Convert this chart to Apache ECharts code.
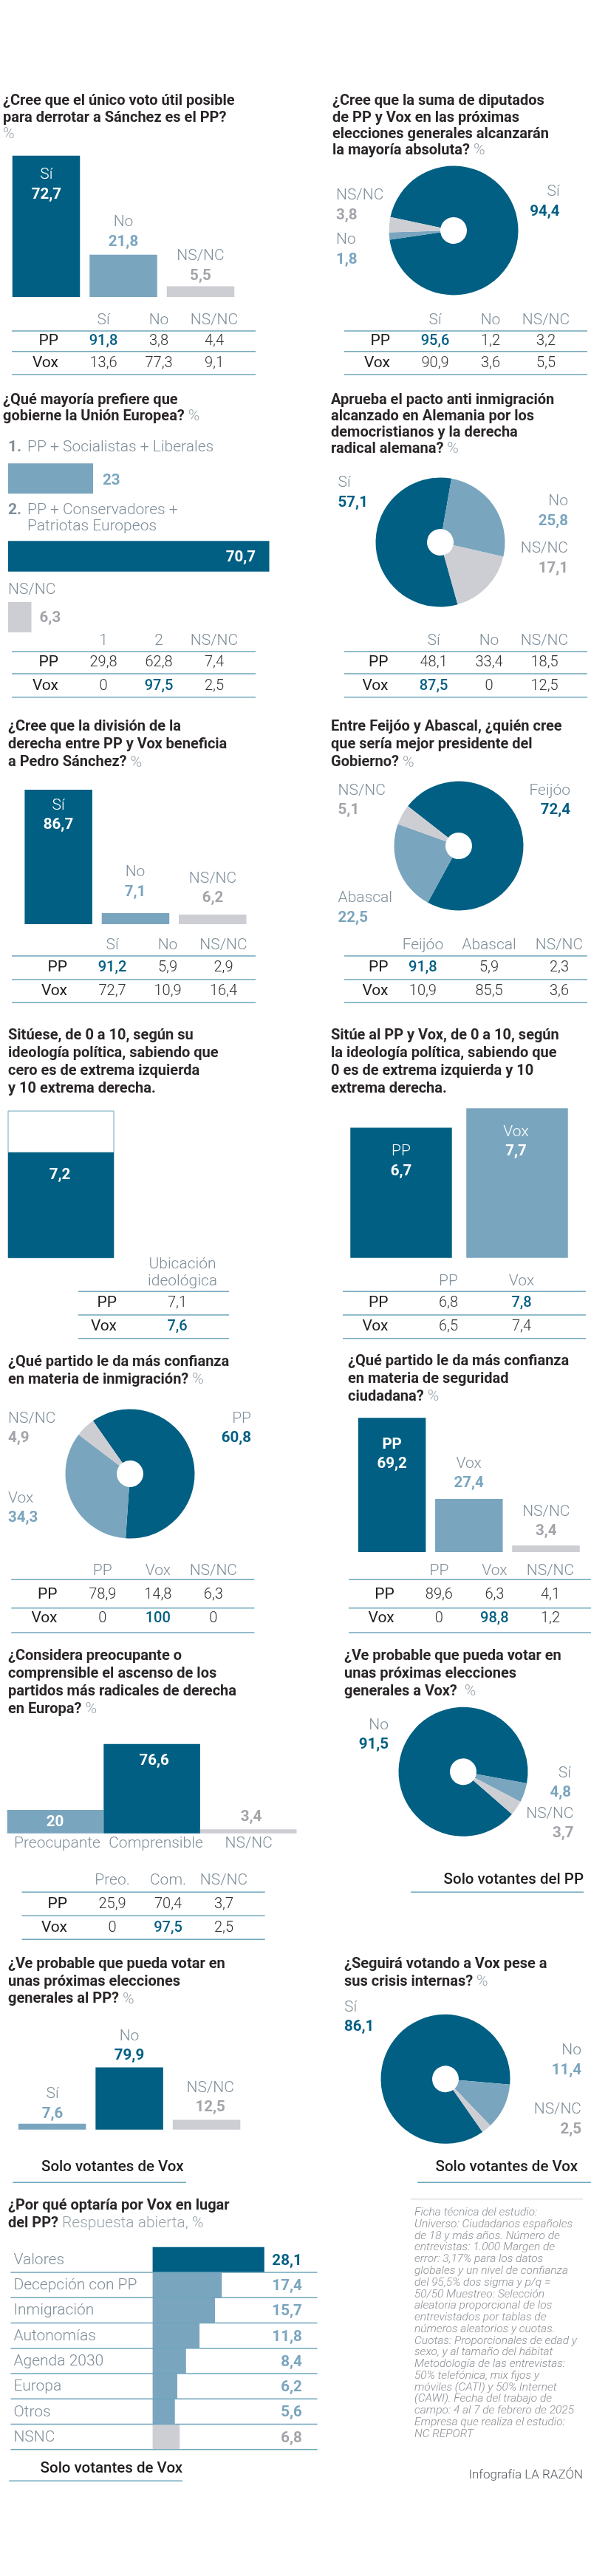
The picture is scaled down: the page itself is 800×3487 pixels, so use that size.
<!DOCTYPE html>
<html>
<head>
<meta charset="utf-8">
<title>Encuesta NC Report</title>
<style>
html, body { margin: 0; padding: 0; background: #fff; }
#chart { width: 800px; height: 3487px; }
</style>
<script src="https://cdn.jsdelivr.net/npm/echarts@6/dist/echarts.min.js"></script>
</head>
<body>
<div id="chart"></div>
<script>
// datos
const q1Title = ['¿Cree que el único voto útil posible', 'para derrotar a Sánchez es el PP?', ''];
const q1Cats = ['Sí', 'No', 'NS/NC'];
const q1Vals = [72.7, 21.8, 5.5];
const q1PP = [91.8, 3.8, 4.4];
const q1Vox = [13.6, 77.3, 9.1];

const q2Title = ['¿Cree que la suma de diputados', 'de PP y Vox en las próximas', 'elecciones generales alcanzarán', 'la mayoría absoluta? '];
const q2Cats = ['Sí', 'No', 'NS/NC'];
const q2Vals = [94.4, 1.8, 3.8];
const q2PP = [95.6, 1.2, 3.2];
const q2Vox = [90.9, 3.6, 5.5];

const q3Title = ['¿Qué mayoría prefiere que', 'gobierne la Unión Europea? '];
const q3Cats = ['PP + Socialistas + Liberales', 'PP + Conservadores +', 'Patriotas Europeos', 'NS/NC'];
const q3Vals = [23, 70.7, 6.3];
const q3Head = ['1', '2', 'NS/NC'];
const q3PP = [29.8, 62.8, 7.4];
const q3Vox = [0, 97.5, 2.5];

const q4Title = ['Aprueba el pacto anti inmigración', 'alcanzado en Alemania por los', 'democristianos y la derecha', 'radical alemana? '];
const q4Cats = ['Sí', 'No', 'NS/NC'];
const q4Vals = [57.1, 25.8, 17.1];
const q4PP = [48.1, 33.4, 18.5];
const q4Vox = [87.5, 0, 12.5];

const q5Title = ['¿Cree que la división de la', 'derecha entre PP y Vox beneficia', 'a Pedro Sánchez? '];
const q5Cats = ['Sí', 'No', 'NS/NC'];
const q5Vals = [86.7, 7.1, 6.2];
const q5PP = [91.2, 5.9, 2.9];
const q5Vox = [72.7, 10.9, 16.4];

const q6Title = ['Entre Feijóo y Abascal, ¿quién cree', 'que sería mejor presidente del', 'Gobierno? '];
const q6Cats = ['Feijóo', 'Abascal', 'NS/NC'];
const q6Vals = [72.4, 22.5, 5.1];
const q6PP = [91.8, 5.9, 2.3];
const q6Vox = [10.9, 85.5, 3.6];

const q7Title = ['Sitúese, de 0 a 10, según su', 'ideología política, sabiendo que', 'cero es de extrema izquierda', 'y 10 extrema derecha.'];
const q7Cats = ['Ubicación'];
const q7Vals = [7.2];
const q7Head = ['Ubicación', 'ideológica'];
const q7PP = [7.1];
const q7Vox = [7.6];

const q8Title = ['Sitúe al PP y Vox, de 0 a 10, según', 'la ideología política, sabiendo que', '0 es de extrema izquierda y 10', 'extrema derecha.'];
const q8Cats = ['PP', 'Vox'];
const q8Vals = [6.7, 7.7];
const q8PP = [6.8, 7.8];
const q8Vox = [6.5, 7.4];

const q9Title = ['¿Qué partido le da más confianza', 'en materia de inmigración? '];
const q9Cats = ['PP', 'Vox', 'NS/NC'];
const q9Vals = [60.8, 34.3, 4.9];
const q9PP = [78.9, 14.8, 6.3];
const q9Vox = [0, 100, 0];

const q10Title = ['¿Qué partido le da más confianza', 'en materia de seguridad', 'ciudadana? '];
const q10Cats = ['PP', 'Vox', 'NS/NC'];
const q10Vals = [69.2, 27.4, 3.4];
const q10PP = [89.6, 6.3, 4.1];
const q10Vox = [0, 98.8, 1.2];

const q11Title = ['¿Considera preocupante o', 'comprensible el ascenso de los', 'partidos más radicales de derecha', 'en Europa? '];
const q11Cats = ['Preocupante', 'Comprensible', 'NS/NC'];
const q11Vals = [20, 76.6, 3.4];
const q11Head = ['Preo.', 'Com.', 'NS/NC'];
const q11PP = [25.9, 70.4, 3.7];
const q11Vox = [0, 97.5, 2.5];

const q12Title = ['¿Ve probable que pueda votar en', 'unas próximas elecciones', 'generales a Vox?  '];
const q12Cats = ['No', 'Sí', 'NS/NC'];
const q12Vals = [91.5, 4.8, 3.7];

const q13Title = ['¿Ve probable que pueda votar en', 'unas próximas elecciones', 'generales al PP? '];
const q13Cats = ['Sí', 'No', 'NS/NC'];
const q13Vals = [7.6, 79.9, 12.5];

const q14Title = ['¿Seguirá votando a Vox pese a', 'sus crisis internas? '];
const q14Cats = ['Sí', 'No', 'NS/NC'];
const q14Vals = [86.1, 11.4, 2.5];

const q15Title = ['¿Por qué optaría por Vox en lugar', 'del PP? '];
const q15Cats = ['Valores', 'Decepción con PP', 'Inmigración', 'Autonomías', 'Agenda 2030', 'Europa', 'Otros', 'NSNC'];
const q15Vals = [28.1, 17.4, 15.7, 11.8, 8.4, 6.2, 5.6, 6.8];

const fichaLines = [
    'Ficha técnica del estudio:',
    'Universo: Ciudadanos españoles',
    'de 18 y más años. Número de',
    'entrevistas: 1.000 Margen de',
    'error: 3,17% para los datos',
    'globales y un nivel de confianza',
    'del 95,5% dos sigma y p/q =',
    '50/50 Muestreo: Selección',
    'aleatoria proporcional de los',
    'entrevistados por tablas de',
    'números aleatorios y cuotas.',
    'Cuotas: Proporcionales de edad y',
    'sexo, y al tamaño del hábitat',
    'Metodología de las entrevistas:',
    '50% telefónica, mix fijos y',
    'móviles (CATI) y 50% Internet',
    '(CAWI). Fecha del trabajo de',
    'campo: 4 al 7 de febrero de 2025',
    'Empresa que realiza el estudio:',
    'NC REPORT'
];

// colores y tamaños
const DARK = '#005f83', MID = '#7aa5be', LIGHT = '#cdced3';
const TXT_MID = '#7aa5be', TXT_LIGHT = '#a2a4aa';
const NAME_COLOR = '#7f8e99', TITLE_COLOR = '#2a2526', RULE_COLOR = '#6fa6bc', CELL_COLOR = '#333132';
const FONT = 'Roboto, "Liberation Sans", sans-serif';
const TITLE_SIZE = 20, NAME_SIZE = 21, NUM_SIZE = 20, VAL_SIZE = 20.5;

const grids = [], xAxes = [], yAxes = [], series = [], elements = [];
const fmt = v => String(v).replace('.', ',');
const valueColor = c => (c === DARK ? DARK : c === MID ? TXT_MID : TXT_LIGHT);

function text (x, y, str, size, weight, fill, align, extra) {
    elements.push({
        type: 'text', x, y, z: 100, silent: true,
        style: Object.assign({
            text: str, fontFamily: FONT, fontSize: size, fontWeight: weight,
            fill, align: align || 'left', verticalAlign: 'middle'
        }, extra)
    });
}

function rule (x1, x2, y, color, width) {
    elements.push({
        type: 'line', z: 90, silent: true,
        shape: { x1, y1: y, x2, y2: y },
        style: { stroke: color || RULE_COLOR, lineWidth: width || 1.5 }
    });
}

// titulo con sufijo claro en la ultima linea
function title (x, ys, lines, suffix) {
    lines.forEach((line, i) => {
        let last = i === lines.length - 1 && suffix;
        let str = last ? `{b|${line}}{l|${suffix}}` : `{b|${line}}`;
        text(x, ys[i], str, TITLE_SIZE, 700, TITLE_COLOR, 'left', {
            rich: {
                b: { fontFamily: FONT, fontSize: TITLE_SIZE, fontWeight: 700, fill: TITLE_COLOR, color: TITLE_COLOR },
                l: { fontFamily: FONT, fontSize: NAME_SIZE, fontWeight: 300, fill: '#98a2a9', color: '#98a2a9' }
            }
        });
    });
}

// nombre + valor
function pair (x, y, name, val, color, align, nameBold) {
    text(x, y, name, nameBold ? VAL_SIZE : NAME_SIZE, nameBold ? 700 : 300, color === '#fff' ? '#fff' : NAME_COLOR, align);
    text(x, y + 26.5, fmt(val), VAL_SIZE, 700, color, align);
}

function table (t) {
    t.headers.forEach((h, i) => text(t.cols[i], t.headY, h, NAME_SIZE, 300, NAME_COLOR, 'center'));
    t.lines.forEach(y => rule(t.x1, t.x2, y));
    ['PP', 'Vox'].forEach((name, r) => {
        text(t.right, t.rows[r], name, NAME_SIZE, 400, '#1f1c1d', 'right');
        t.data[r].forEach((v, c) => {
            let hi = t.hi && t.hi[0] === r && t.hi[1] === c;
            text(t.cols[c], t.rows[r], fmt(v), NUM_SIZE, hi ? 500 : 300, hi ? DARK : CELL_COLOR, 'center');
        });
    });
}

function vbars (b) {
    let i = grids.length;
    grids.push({ left: b.left, top: b.top, width: b.width, height: b.height });
    xAxes.push({ gridIndex: i, type: 'category', data: b.cats, show: false });
    yAxes.push({ gridIndex: i, type: 'value', min: 0, max: b.max || 100, show: false });
    series.push({
        type: 'bar', xAxisIndex: i, yAxisIndex: i, silent: true, barWidth: b.barWidth,
        showBackground: !!b.background,
        backgroundStyle: b.background,
        data: b.vals.map((v, k) => ({ value: v, itemStyle: { color: b.colors[k] } }))
    });
}

function hbars (b) {
    let i = grids.length;
    grids.push({ left: b.left, top: b.top, width: b.width, height: b.height });
    xAxes.push({ gridIndex: i, type: 'value', min: 0, max: 100, show: false });
    yAxes.push({ gridIndex: i, type: 'category', inverse: true, data: b.cats, show: false });
    series.push({
        type: 'bar', xAxisIndex: i, yAxisIndex: i, silent: true, barCategoryGap: 0,
        data: b.vals.map((v, k) => ({ value: v, itemStyle: { color: b.colors[k] } }))
    });
}

function pie (p) {
    series.push({
        type: 'pie', silent: true, center: [p.x, p.y], radius: [18, 87.5],
        startAngle: p.start, clockwise: true, label: { show: false }, labelLine: { show: false },
        itemStyle: { borderWidth: 0 },
        data: p.vals.map((v, k) => ({ name: p.cats[k], value: v, itemStyle: { color: p.colors[k] } }))
    });
}

const TRIO = [DARK, MID, LIGHT];
const ROWS_A = [462, 492], LINES_A = [448, 475.7, 507];

// 1
title(4, [137, 160, 182], q1Title, '%');
vbars({ left: 10.25, top: 139, width: 313.5, height: 263, barWidth: 91.5, cats: q1Cats, vals: q1Vals, colors: TRIO });
pair(62.8, 237, q1Cats[0], q1Vals[0], '#fff', 'center');
pair(167, 301, q1Cats[1], q1Vals[1], TXT_MID, 'center');
pair(271.4, 347, q1Cats[2], q1Vals[2], TXT_LIGHT, 'center');
table({ cols: [140, 215, 290], right: 79, x1: 16, x2: 346, headY: 434, lines: LINES_A, rows: ROWS_A, headers: q1Cats, data: [q1PP, q1Vox], hi: [0, 0] });

// 2
title(450, [137, 160, 182, 204], q2Title, '%');
pie({ x: 614, y: 312, start: 168, vals: q2Vals, cats: q2Cats, colors: TRIO });
pair(455, 265, q2Cats[2], q2Vals[2], TXT_LIGHT, 'left');
pair(455, 325, q2Cats[1], q2Vals[1], TXT_MID, 'left');
pair(757.6, 260, q2Cats[0], q2Vals[0], DARK, 'right');
table({ cols: [589, 664, 739], right: 528, x1: 466, x2: 795, headY: 434, lines: LINES_A, rows: ROWS_A, headers: q2Cats, data: [q2PP, q2Vox], hi: [0, 0] });

// 3
title(4, [541.7, 563.5], q3Title, '%');
text(11, 606, '1.', NAME_SIZE, 700, NAME_COLOR);
text(37, 606, q3Cats[0], NAME_SIZE, 300, NAME_COLOR);
hbars({ left: 11, top: 627.3, width: 500, height: 41, cats: ['1'], vals: [q3Vals[0]], colors: [MID] });
text(139, 651, fmt(q3Vals[0]), VAL_SIZE, 700, TXT_MID);
text(11, 690.7, '2.', NAME_SIZE, 700, NAME_COLOR);
text(37, 690.7, q3Cats[1], NAME_SIZE, 300, NAME_COLOR);
text(37, 712.7, q3Cats[2], NAME_SIZE, 300, NAME_COLOR);
hbars({ left: 11, top: 732.3, width: 500, height: 41.4, cats: ['2'], vals: [q3Vals[1]], colors: [DARK] });
text(346, 755, fmt(q3Vals[1]), VAL_SIZE, 700, '#fff', 'right');
text(11, 799, q3Cats[3], NAME_SIZE, 300, NAME_COLOR);
hbars({ left: 11, top: 815, width: 500, height: 41, cats: ['NS/NC'], vals: [q3Vals[2]], colors: [LIGHT] });
text(53.6, 837, fmt(q3Vals[2]), VAL_SIZE, 700, TXT_LIGHT);
table({ cols: [140, 215, 290], right: 79, x1: 16, x2: 346, headY: 867.7, lines: [882, 912, 943.7], rows: [896.7, 928.7], headers: q3Head, data: [q3PP, q3Vox], hi: [1, 1] });

// 4
title(448, [541.7, 563.5, 585.7, 607.7], q4Title, '%');
pie({ x: 596, y: 734, start: 285.6, vals: q4Vals, cats: q4Cats, colors: TRIO });
pair(457.6, 654, q4Cats[0], q4Vals[0], DARK, 'left');
pair(769, 679, q4Cats[1], q4Vals[1], TXT_MID, 'right');
pair(769, 743, q4Cats[2], q4Vals[2], TXT_LIGHT, 'right');
table({ cols: [587, 662, 737], right: 525.5, x1: 466, x2: 795, headY: 867.7, lines: [882, 912, 943.7], rows: [896.7, 928.7], headers: q4Cats, data: [q4PP, q4Vox], hi: [1, 0] });

// 5
title(11, [984.3, 1008.3, 1032.3], q5Title, '%');
vbars({ left: 27, top: 1041, width: 312.9, height: 210, barWidth: 91.5, cats: q5Cats, vals: q5Vals, colors: TRIO });
pair(79, 1090.7, q5Cats[0], q5Vals[0], '#fff', 'center');
pair(183, 1181, q5Cats[1], q5Vals[1], TXT_MID, 'center');
pair(288, 1189.5, q5Cats[2], q5Vals[2], TXT_LIGHT, 'center');
table({ cols: [152, 227, 302.5], right: 91, x1: 16, x2: 346, headY: 1280, lines: [1294, 1326, 1357.3], rows: [1310, 1342], headers: q5Cats, data: [q5PP, q5Vox], hi: [0, 0] });

// 6
title(448, [984.3, 1008.3, 1032.3], q6Title, '%');
pie({ x: 621, y: 1145, start: 142, vals: q6Vals, cats: q6Cats, colors: TRIO });
pair(457.6, 1070.7, q6Cats[2], q6Vals[2], TXT_LIGHT, 'left');
pair(772, 1070.7, q6Cats[0], q6Vals[0], DARK, 'right');
pair(457.6, 1216, q6Cats[1], q6Vals[1], TXT_MID, 'left');
table({ cols: [572.4, 662, 757], right: 525.5, x1: 466, x2: 795, headY: 1280, lines: [1294, 1326, 1357.3], rows: [1310, 1342], headers: q6Cats, data: [q6PP, q6Vox], hi: [0, 0] });

// 7
title(11, [1402.3, 1426, 1450, 1473.7], q7Title);
vbars({
    left: 11, top: 1504, width: 143, height: 198.7, max: 10, barWidth: 143, cats: q7Cats, vals: q7Vals, colors: [DARK],
    background: { color: '#fff', borderColor: RULE_COLOR, borderWidth: 1 }
});
text(81, 1591, fmt(q7Vals[0]), VAL_SIZE, 700, '#fff', 'center');
text(247, 1712, q7Head[0], NAME_SIZE, 300, NAME_COLOR, 'center');
table({ cols: [240], right: 158, x1: 106, x2: 310, headY: 1734.3, lines: [1748.3, 1780, 1811.7], rows: [1764, 1795.7], headers: [''], data: [q7PP, q7Vox], hi: [1, 0] });
text(247, 1734.3, q7Head[1], NAME_SIZE, 300, NAME_COLOR, 'center');

// 8
title(448, [1402.3, 1426, 1450, 1473.7], q8Title);
vbars({ left: 464.5, top: 1439.7, width: 314, height: 263, max: 10, barWidth: 137.5, cats: q8Cats, vals: q8Vals, colors: [DARK, MID] });
pair(543, 1559, q8Cats[0], q8Vals[0], '#fff', 'center');
pair(698.5, 1532.7, q8Cats[1], q8Vals[1], '#fff', 'center');
table({ cols: [607, 706], right: 525.5, x1: 464, x2: 793, headY: 1734.3, lines: [1748.3, 1780, 1811.7], rows: [1764, 1795.7], headers: q8Cats, data: [q8PP, q8Vox], hi: [0, 1] });

// 9
title(11, [1844, 1867.7], q9Title, '%');
pie({ x: 176, y: 1995, start: 125, vals: q9Vals, cats: q9Cats, colors: TRIO });
pair(11, 1920.7, q9Cats[2], q9Vals[2], TXT_LIGHT, 'left');
pair(340, 1920.7, q9Cats[0], q9Vals[0], DARK, 'right');
pair(11, 2028.3, q9Cats[1], q9Vals[1], TXT_MID, 'left');
table({ cols: [138.8, 213.8, 288.8], right: 77.5, x1: 15.3, x2: 344.4, headY: 2126.7, lines: [2138.3, 2176.7, 2210], rows: [2159, 2191], headers: q9Cats, data: [q9PP, q9Vox], hi: [1, 1] });

// 10
title(471, [1843.3, 1866.7, 1890.7], q10Title, '%');
vbars({ left: 478.5, top: 1838.5, width: 312.6, height: 262.5, barWidth: 91.5, cats: q10Cats, vals: q10Vals, colors: TRIO });
pair(530.6, 1955.7, q10Cats[0], q10Vals[0], '#fff', 'center', true);
pair(634.7, 1981.3, q10Cats[1], q10Vals[1], TXT_MID, 'center');
pair(739.3, 2046.7, q10Cats[2], q10Vals[2], TXT_LIGHT, 'center');
table({ cols: [594.4, 669.4, 745], right: 533.7, x1: 472, x2: 800, headY: 2126.7, lines: [2138.3, 2176.7, 2210], rows: [2159, 2191], headers: q10Cats, data: [q10PP, q10Vox], hi: [1, 1] });

// 11
title(11, [2242, 2266, 2289.7, 2314], q11Title, '%');
vbars({ left: 9.7, top: 2323.7, width: 391.8, height: 158, barWidth: 130.6, cats: q11Cats, vals: q11Vals, colors: [MID, DARK, LIGHT] });
text(74.5, 2466.7, fmt(q11Vals[0]), VAL_SIZE, 700, '#fff', 'center');
text(208.7, 2384, fmt(q11Vals[1]), VAL_SIZE, 700, '#fff', 'center');
text(340, 2460, fmt(q11Vals[2]), VAL_SIZE, 700, TXT_LIGHT, 'center');
text(77.5, 2495.3, q11Cats[0], NAME_SIZE, 300, NAME_COLOR, 'center');
text(211, 2495.3, q11Cats[1], NAME_SIZE, 300, NAME_COLOR, 'center');
text(336.7, 2495.3, q11Cats[2], NAME_SIZE, 300, NAME_COLOR, 'center');
table({ cols: [152, 227.5, 303], right: 91, x1: 29.6, x2: 358.7, headY: 2545.3, lines: [2561.3, 2593.3, 2625.3], rows: [2577.7, 2610], headers: q11Head, data: [q11PP, q11Vox], hi: [1, 1] });

// 12
title(466, [2242, 2266, 2289.7], q12Title, '%');
pie({ x: 627, y: 2398.3, start: 319, vals: q12Vals, cats: q12Cats, colors: TRIO });
pair(526, 2335.3, q12Cats[0], q12Vals[0], DARK, 'right');
pair(773, 2400.3, q12Cats[1], q12Vals[1], TXT_MID, 'right');
pair(776.5, 2455.3, q12Cats[2], q12Vals[2], TXT_LIGHT, 'right');
text(790, 2545.3, 'Solo votantes del PP', 20.5, 500, '#1f1c1d', 'right');
rule(556, 790, 2561.3);

// 13
title(11, [2658.7, 2682.7, 2706.3], q13Title, '%');
vbars({ left: 18.4, top: 2777.2, width: 313.4, height: 105.5, barWidth: 91.5, cats: q13Cats, vals: q13Vals, colors: [MID, DARK, LIGHT] });
pair(71, 2835, q13Cats[0], q13Vals[0], TXT_MID, 'center');
pair(175, 2756.3, q13Cats[1], q13Vals[1], DARK, 'center');
pair(284.7, 2826.7, q13Cats[2], q13Vals[2], TXT_LIGHT, 'center');
text(56, 2934.3, 'Solo votantes de Vox', 20.5, 500, '#1f1c1d');
rule(17.3, 252, 2954.3);

// 14
title(466, [2658.7, 2682.7], q14Title, '%');
pie({ x: 603, y: 2814.3, start: 305, vals: q14Vals, cats: q14Cats, colors: TRIO });
pair(466, 2717.7, q14Cats[0], q14Vals[0], DARK, 'left');
pair(787, 2776, q14Cats[1], q14Vals[1], TXT_MID, 'right');
pair(787, 2856, q14Cats[2], q14Vals[2], TXT_LIGHT, 'right');
text(782, 2934.3, 'Solo votantes de Vox', 20.5, 500, '#1f1c1d', 'right');
rule(565, 800, 2954.3);

// 15
title(11, [2985.7, 3009.7], q15Title, 'Respuesta abierta, %');
let q15Colors = q15Vals.map((v, i) => (i === 0 ? DARK : i === q15Vals.length - 1 ? LIGHT : MID));
hbars({ left: 206.6, top: 3041.7, width: 538, height: 274, cats: q15Cats, vals: q15Vals, colors: q15Colors });
q15Cats.forEach((cat, i) => {
    let y = 3059.5 + i * 34.3;
    text(18.4, y, cat, NAME_SIZE, 300, NAME_COLOR);
    text(408.7, y + 1, fmt(q15Vals[i]), VAL_SIZE, 700, valueColor(q15Colors[i]), 'right');
    rule(14.3, 429.6, 3076 + i * 34.25);
});
text(54.6, 3342, 'Solo votantes de Vox', 20.5, 500, '#1f1c1d');
rule(12.2, 247, 3358.3);

// ficha tecnica
rule(556, 789, 2976.7, '#e8e8e8', 2);
fichaLines.forEach((line, i) => {
    text(561, 2995.3 + i * 15.77, line, 15.5, 300, '#8b8f94', 'left', { fontStyle: 'italic' });
});
text(789, 3351, 'Infografía LA RAZÓN', 17, 300, '#55595d', 'right');

const echart = echarts.init(document.getElementById('chart'), null, { renderer: 'canvas' });
echart.setOption({
    animation: false,
    backgroundColor: '#fff',
    grid: grids,
    xAxis: xAxes,
    yAxis: yAxes,
    series,
    graphic: { elements }
});
</script>
</body>
</html>
